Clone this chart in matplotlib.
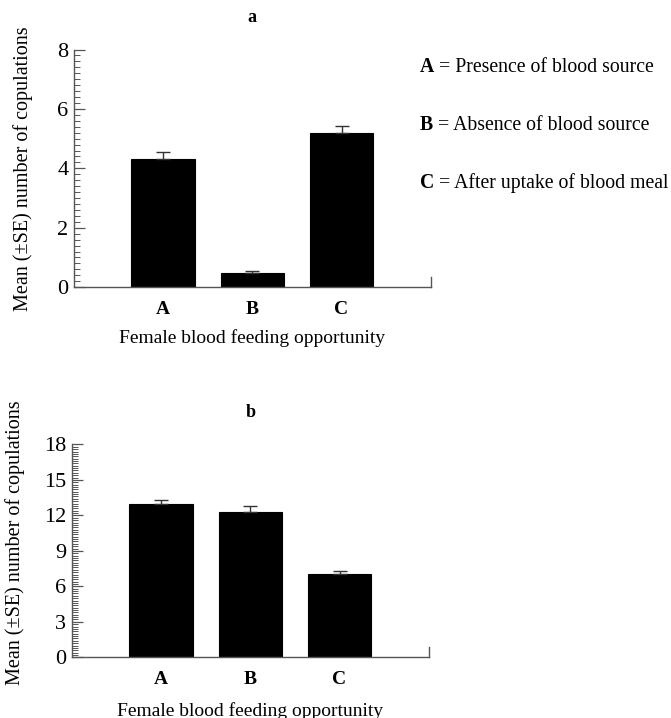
import matplotlib.pyplot as plt
from matplotlib.ticker import MultipleLocator

plt.rcParams['font.family'] = ['Liberation Serif', 'DejaVu Serif']

# data
groups = ['A', 'B', 'C']
means_a = [4.30, 0.49, 5.19]
se_a = [0.25, 0.07, 0.24]
means_b = [12.98, 12.28, 7.01]
se_b = [0.32, 0.48, 0.26]

legend_lines = [('A', 'Presence of blood source'),
                ('B', 'Absence of blood source'),
                ('C', 'After uptake of blood meal')]

ylabel = 'Mean (\u00b1SE) number of copulations'
xlabel = 'Female blood feeding opportunity'
axis_col = '#555555'


def bar_panel(ax, means, errs, ymax, major, minor, tag, stub):
    """Draw one bar panel in the style of the original."""
    x = range(len(groups))
    ax.bar(x, means, width=0.71, color='black', edgecolor='black',
           linewidth=0.8, zorder=2)
    # only the upper half of the error bar is shown
    ax.errorbar(x, means, yerr=[[0] * len(errs), errs], fmt='none',
                ecolor='#333333', elinewidth=1.0, capsize=5, capthick=1.0,
                zorder=3)
    ax.set_xlim(-1, 3)
    ax.set_ylim(0, ymax)
    ax.yaxis.set_major_locator(MultipleLocator(major))
    ax.yaxis.set_minor_locator(MultipleLocator(minor))
    ax.set_xticks(list(x))
    ax.set_xticklabels(groups, fontweight='bold', fontsize=14)
    ax.tick_params(axis='x', length=0, pad=10)
    ax.tick_params(axis='y', which='major', direction='in', length=8,
                   width=0.9, color=axis_col, labelsize=16, pad=4)
    ax.tick_params(axis='y', which='minor', direction='in', length=4,
                   width=0.7, color=axis_col)
    ax.spines['top'].set_visible(False)
    for side in ['left', 'bottom', 'right']:
        ax.spines[side].set_color(axis_col)
        ax.spines[side].set_linewidth(1.0)
    # short stub at the right end of the x axis
    ax.spines['right'].set_bounds(0, stub)
    ax.set_ylabel(ylabel, fontsize=14.5)
    ax.set_xlabel(xlabel, fontsize=14, labelpad=8)
    ax.set_title(tag, fontweight='bold', fontsize=13, pad=20)


fig = plt.figure(figsize=(6.71, 7.18), dpi=100)
ax1 = fig.add_axes([0.110, 0.600, 0.532, 0.331])
ax2 = fig.add_axes([0.107, 0.0845, 0.532, 0.2965])

bar_panel(ax1, means_a, se_a, 8, 2, 0.2, 'a', 0.34)
bar_panel(ax2, means_b, se_b, 18, 3, 0.2, 'b', 0.9)

ax1.yaxis.set_label_coords(-0.115, 0.5)
ax2.yaxis.set_label_coords(-0.132, 0.537)
ax2.xaxis.labelpad = 10

# key to the group letters
ys = [0.907, 0.826, 0.745]
for (key, txt), yy in zip(legend_lines, ys):
    k = fig.text(0.626, yy, key, fontweight='bold', fontsize=14.2,
                 va='center')
    fig.add_artist(plt.Annotation(' = ' + txt, xy=(1, 0), xycoords=k,
                                  va='bottom', ha='left', fontsize=14.2))

fig.savefig('out.png', dpi=100)
